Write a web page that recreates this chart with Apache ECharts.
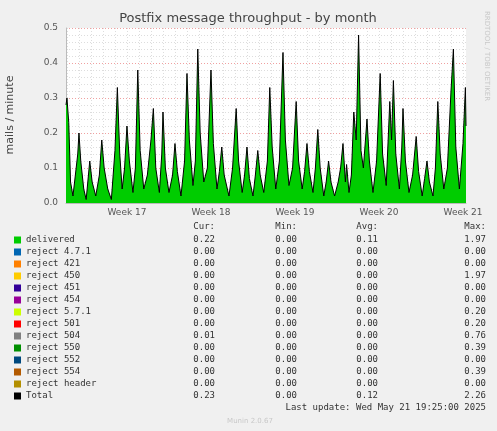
<!DOCTYPE html>
<html><head><meta charset="utf-8">
<script src="https://cdn.jsdelivr.net/npm/echarts@6/dist/echarts.min.js"></script>
<style>html,body{margin:0;padding:0;background:#f0f0f0}#c{width:497px;height:431px}</style>
</head><body><div id="c"></div>
<script>
const deliveredPoints = [[1.92,0.28],[2.0,0.30],[2.15,0.23],[2.3,0.06],[2.5,0.02],[2.7,0.08],[2.9,0.14],[3.0,0.20],[3.15,0.12],[3.4,0.04],[3.6,0.01],[3.9,0.12],[4.1,0.06],[4.4,0.02],[4.7,0.08],[4.9,0.18],[5.1,0.10],[5.4,0.04],[5.7,0.01],[6.0,0.15],[6.2,0.33],[6.4,0.14],[6.6,0.04],[6.8,0.10],[7.0,0.22],[7.2,0.12],[7.5,0.03],[7.7,0.10],[7.9,0.38],[8.1,0.15],[8.4,0.04],[8.7,0.08],[9.0,0.18],[9.2,0.27],[9.4,0.10],[9.7,0.03],[9.9,0.14],[10.0,0.26],[10.2,0.10],[10.5,0.03],[10.8,0.08],[11.0,0.17],[11.2,0.09],[11.5,0.02],[11.8,0.12],[12.0,0.37],[12.2,0.18],[12.5,0.05],[12.7,0.12],[12.9,0.44],[13.1,0.20],[13.4,0.06],[13.7,0.10],[14.0,0.38],[14.2,0.17],[14.5,0.04],[14.7,0.09],[14.9,0.16],[15.1,0.08],[15.5,0.02],[15.8,0.10],[16.1,0.27],[16.3,0.12],[16.6,0.03],[16.8,0.08],[17.0,0.16],[17.2,0.07],[17.5,0.02],[17.7,0.08],[17.9,0.15],[18.1,0.08],[18.4,0.03],[18.7,0.12],[18.9,0.33],[19.1,0.16],[19.4,0.04],[19.7,0.12],[20.0,0.43],[20.2,0.18],[20.5,0.05],[20.8,0.10],[21.1,0.29],[21.3,0.12],[21.6,0.04],[21.8,0.09],[22.0,0.17],[22.2,0.09],[22.5,0.03],[22.7,0.10],[22.9,0.21],[23.1,0.10],[23.4,0.02],[23.6,0.06],[23.8,0.12],[24.0,0.06],[24.3,0.02],[24.6,0.06],[24.8,0.10],[25.0,0.17],[25.2,0.06],[25.3,0.11],[25.5,0.03],[25.7,0.08],[25.9,0.26],[26.1,0.18],[26.3,0.48],[26.5,0.15],[26.7,0.10],[27.0,0.24],[27.2,0.12],[27.5,0.03],[27.8,0.12],[28.1,0.37],[28.3,0.14],[28.6,0.05],[28.9,0.29],[29.05,0.18],[29.2,0.35],[29.4,0.14],[29.7,0.04],[29.9,0.16],[30.0,0.27],[30.2,0.12],[30.5,0.03],[30.8,0.08],[31.1,0.19],[31.3,0.09],[31.6,0.02],[31.8,0.07],[32.0,0.12],[32.2,0.06],[32.5,0.02],[32.7,0.10],[32.9,0.29],[33.1,0.14],[33.4,0.04],[33.7,0.10],[34.0,0.32],[34.2,0.44],[34.4,0.16],[34.7,0.04],[35.0,0.17],[35.2,0.33],[35.25,0.22]];
const weekTicks = [7,14,21,28,35];
const weekLabels = ['Week 17','Week 18','Week 19','Week 20','Week 21'];
const dayTicks = [2,3,4,5,6,7,8,9,10,11,12,13,14,15,16,17,18,19,20,21,22,23,24,25,26,27,28,29,30,31,32,33,34,35];
const legendNames = ['delivered','reject 4.7.1','reject 421','reject 450','reject 451','reject 454','reject 5.7.1','reject 501','reject 504','reject 550','reject 552','reject 554','reject header','Total'];
const legendColors = ['#00cc00','#0066b3','#ff8000','#ffcc00','#330099','#990099','#ccff00','#ff0000','#808080','#008f00','#00487d','#b35a00','#b38f00','#000000'];
const curVals = ['0.22','0.00','0.00','0.00','0.00','0.00','0.00','0.00','0.01','0.00','0.00','0.00','0.00','0.23'];
const minVals = ['0.00','0.00','0.00','0.00','0.00','0.00','0.00','0.00','0.00','0.00','0.00','0.00','0.00','0.00'];
const avgVals = ['0.11','0.00','0.00','0.00','0.00','0.00','0.00','0.00','0.00','0.00','0.00','0.00','0.00','0.12'];
const maxVals = ['1.97','0.00','0.00','1.97','0.00','0.00','0.20','0.20','0.76','0.39','0.00','0.39','0.00','2.26'];

const mono = 'DejaVu Sans Mono';
const g = [];
const t = (x,y,text,align,color,size,font) => g.push({type:'text',x,y,style:{text,textAlign:align||'left',textVerticalAlign:'middle',fill:color||'#333',font:(size||9)+'px "'+(font||mono)+'"'}});
t(248,19,'Postfix message throughput - by month','center','#444',13,'DejaVu Sans');
g.push({type:'text',x:10,y:115,rotation:Math.PI/2,style:{text:'mails / minute',textAlign:'center',textVerticalAlign:'middle',fill:'#444',font:'11px "DejaVu Sans"'}});
g.push({type:'text',x:487,y:56,rotation:-Math.PI/2,style:{text:'RRDTOOL / TOBI OETIKER',textAlign:'center',textVerticalAlign:'middle',fill:'#c8c8c8',font:'7px "DejaVu Sans"'}});
const y0 = 240, dy = 12;
t(215,227,'Cur:','right'); t(297,227,'Min:','right'); t(378,227,'Avg:','right'); t(486,227,'Max:','right');
legendNames.forEach((n,i)=>{
  const y = y0 + i*dy;
  g.push({type:'rect',shape:{x:14,y:y-3.5,width:7,height:7},style:{fill:legendColors[i]}});
  t(26,y,n); t(215,y,curVals[i],'right'); t(297,y,minVals[i],'right'); t(378,y,avgVals[i],'right'); t(486,y,maxVals[i],'right');
});
t(486,408,'Last update: Wed May 21 19:25:00 2025','right');
t(250,421,'Munin 2.0.67','center','#c8c8c8',7,'DejaVu Sans');

const chart = echarts.init(document.getElementById('c'));
chart.setOption({
  animation:false,
  backgroundColor:'#f0f0f0',
  grid:{left:66,right:31,top:28,bottom:228,backgroundColor:'#fff',show:true,borderWidth:0},
  xAxis:[{type:'value',min:1.92,max:35.25,
    axisLine:{lineStyle:{color:'#bbb'}},
    axisTick:{show:false,customValues:weekTicks},
    axisLabel:{customValues:weekTicks,formatter:v=>weekLabels[weekTicks.indexOf(v)]||'',color:'#555',fontSize:9,fontFamily:'DejaVu Sans',margin:5},
    splitLine:{show:true,lineStyle:{color:'#f0a0a0',type:[1,2]}}},
    {type:'value',min:1.92,max:35.25,position:'bottom',axisLine:{show:false},axisLabel:{show:false},
    axisTick:{show:false,customValues:dayTicks},
    splitLine:{show:true,lineStyle:{color:'#dddddd',type:[1,2]}}}],
  yAxis:{type:'value',min:0,max:0.5,interval:0.1,
    axisLine:{show:true,lineStyle:{color:'#bbb'}},axisTick:{show:false},
    axisLabel:{formatter:v=>v.toFixed(1),color:'#555',fontSize:9,fontFamily:'DejaVu Sans'},
    splitLine:{lineStyle:{color:'#f0a0a0',type:[1,2]}},
    minorTick:{show:false,splitNumber:5},
    minorSplitLine:{show:true,lineStyle:{color:'#dddddd',type:[1,2]}}},
  series:[
    {name:'delivered',type:'line',data:deliveredPoints,symbol:'none',lineStyle:{width:0},areaStyle:{color:'#00cc00',opacity:1},z:2},
    {name:'Total',type:'line',data:deliveredPoints,symbol:'none',lineStyle:{width:1,color:'#000'},z:3}
  ],
  graphic:g
});
</script></body></html>
